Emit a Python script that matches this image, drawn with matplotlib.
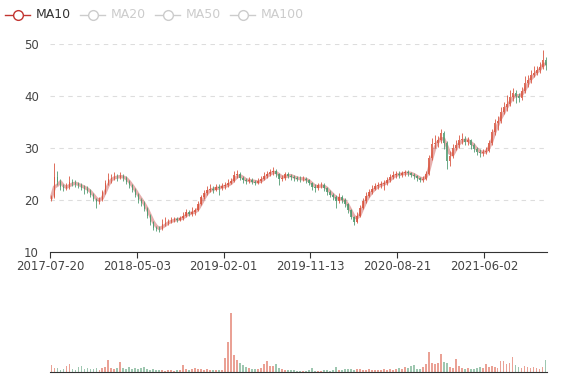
#!/usr/bin/python3
# coding: utf-8

import numpy as np
import pandas as pd
import matplotlib
matplotlib.use('Agg')
import matplotlib.pyplot as plt
from matplotlib.lines import Line2D

# one candle is roughly one trading week
tick_labels = ['2017-07-20', '2018-05-03', '2019-02-01', '2019-11-13', '2020-08-21', '2021-06-02']
tick_step = 29

first_open = 20.0
close = [20.5, 24.5, 23.5, 22.5, 22.3, 22.5, 23.5, 23.2, 23.0, 22.8,
         22.4, 22.2, 21.8, 21.0, 20.2, 19.6, 20.0, 21.5, 23.2, 24.0,
         24.3, 24.5, 24.4, 24.6, 24.3, 23.5, 22.8, 22.0, 21.0, 20.0,
         19.5, 18.3, 17.0, 15.8, 14.6, 14.5, 14.4, 15.4, 15.6, 15.8,
         16.2, 16.3, 16.2, 16.5, 17.0, 17.6, 17.4, 17.6, 18.0, 19.2,
         20.5, 21.3, 22.0, 22.2, 22.0, 22.5, 22.4, 22.6, 22.8, 23.2,
         23.6, 24.8, 25.0, 24.2, 23.8, 23.6, 23.9, 23.5, 23.3, 23.6,
         24.0, 24.6, 25.0, 25.3, 25.6, 25.0, 24.0, 24.3, 25.0, 24.7,
         24.4, 24.2, 24.1, 24.0, 24.1, 23.8, 23.2, 22.5, 22.4, 22.8,
         22.9, 22.3, 21.6, 21.0, 20.6, 19.8, 20.5, 20.0, 19.2, 18.0,
         16.8, 15.8, 17.0, 18.5, 19.8, 20.8, 21.5, 22.2, 22.6, 22.9,
         23.0, 23.2, 23.8, 24.4, 24.8, 25.0, 24.9, 25.1, 25.3, 25.2,
         24.9, 24.6, 24.2, 23.9, 24.0, 25.0, 28.0, 30.8, 31.0, 31.5,
         32.8, 31.0, 27.5, 28.5, 30.0, 30.6, 31.5, 31.8, 31.2, 31.5,
         30.5, 29.8, 29.3, 29.0, 29.2, 29.5, 31.0, 33.0, 34.8, 35.2,
         37.0, 37.8, 38.5, 39.8, 40.5, 40.0, 39.6, 41.0, 42.5, 43.0,
         44.0, 44.5, 45.0, 45.5, 47.0, 46.0]
high = [21.0, 27.2, 25.5, 24.0, 23.0, 23.2, 24.6, 24.0, 23.8, 23.4,
        23.2, 22.9, 22.6, 22.1, 21.3, 20.4, 20.5, 22.0, 23.8, 25.2,
        25.0, 25.3, 25.0, 25.4, 25.0, 24.6, 23.8, 23.0, 22.3, 21.3,
        20.4, 19.8, 18.6, 17.3, 16.0, 15.0, 15.0, 16.3, 16.8, 16.3,
        16.7, 16.8, 16.7, 16.9, 17.6, 18.2, 18.0, 18.6, 18.5, 19.8,
        21.0, 22.0, 22.6, 23.0, 22.7, 23.0, 23.0, 23.2, 23.5, 24.0,
        24.2, 25.5, 25.8, 25.3, 24.6, 24.2, 24.5, 24.2, 23.9, 24.2,
        24.6, 25.3, 25.6, 25.9, 26.4, 26.0, 25.2, 24.9, 25.4, 25.3,
        25.0, 24.8, 24.7, 24.6, 24.6, 24.4, 24.0, 23.4, 23.0, 23.3,
        23.4, 23.2, 22.5, 21.9, 21.3, 21.0, 21.4, 21.0, 20.3, 19.4,
        18.3, 17.0, 17.6, 19.0, 20.3, 21.5, 22.1, 22.8, 23.2, 23.5,
        23.6, 23.9, 24.4, 25.0, 25.5, 25.6, 25.5, 25.6, 25.8, 25.7,
        25.4, 25.1, 24.8, 24.5, 24.6, 25.6, 28.6, 32.0, 32.5, 32.4,
        33.7, 33.2, 31.3, 29.5, 30.8, 31.5, 32.5, 32.8, 32.3, 32.2,
        31.8, 30.9, 30.2, 29.8, 29.8, 30.2, 31.6, 33.7, 35.5, 36.2,
        37.8, 38.8, 40.2, 41.2, 41.5, 41.2, 40.6, 41.8, 43.8, 44.0,
        45.0, 45.8, 45.8, 46.5, 48.9, 47.5]
low = [19.8, 20.3, 22.8, 22.0, 21.8, 21.9, 22.2, 22.6, 22.5, 22.3,
       21.9, 21.2, 21.3, 20.5, 19.8, 18.5, 19.3, 19.8, 21.2, 22.8,
       23.2, 23.8, 23.6, 24.0, 23.7, 23.0, 22.3, 21.5, 20.5, 19.5,
       18.9, 17.8, 16.5, 15.2, 14.2, 14.0, 13.9, 14.2, 15.0, 15.1,
       15.5, 15.8, 15.7, 15.9, 16.2, 16.8, 16.9, 17.0, 17.2, 17.8,
       19.0, 20.2, 21.0, 21.6, 21.4, 21.7, 21.0, 22.0, 22.2, 22.5,
       23.0, 23.4, 24.3, 23.8, 23.3, 23.1, 23.2, 23.0, 22.8, 23.0,
       23.3, 23.8, 24.2, 24.6, 24.9, 24.5, 22.8, 23.6, 23.9, 24.2,
       23.9, 23.7, 23.6, 23.5, 23.6, 23.3, 22.8, 22.0, 21.5, 22.0,
       22.3, 21.8, 21.0, 20.5, 20.0, 18.5, 19.5, 19.4, 18.6, 17.5,
       16.3, 15.2, 15.5, 16.8, 18.2, 19.5, 20.5, 21.2, 21.9, 22.2,
       22.4, 22.0, 22.9, 23.5, 24.0, 24.3, 24.3, 24.5, 24.7, 24.7,
       24.4, 24.0, 23.7, 23.4, 23.4, 23.8, 24.8, 27.6, 30.0, 30.2,
       31.0, 29.8, 26.0, 26.5, 28.0, 29.6, 30.0, 30.8, 30.5, 30.6,
       29.8, 29.2, 28.6, 28.2, 28.5, 28.8, 29.2, 30.6, 32.5, 33.5,
       34.8, 36.5, 37.2, 38.0, 39.0, 38.6, 38.8, 39.2, 40.6, 41.8,
       42.5, 43.6, 44.0, 44.5, 45.2, 45.0]
volume = [7, 4, 4, 2, 3, 6, 8, 3, 2, 5,
          6, 3, 4, 3, 3, 4, 2, 4, 5, 12,
          4, 3, 4, 10, 4, 3, 5, 3, 4, 3,
          4, 5, 3, 2, 3, 2, 2, 2, 1, 2,
          2, 1, 2, 2, 7, 3, 2, 3, 4, 3,
          3, 2, 3, 2, 2, 2, 2, 2, 14, 30,
          59, 17, 12, 9, 7, 5, 4, 3, 3, 3,
          4, 8, 11, 6, 6, 8, 4, 3, 2, 2,
          2, 2, 1, 1, 1, 1, 2, 4, 1, 1,
          1, 2, 2, 1, 2, 5, 2, 2, 3, 3,
          3, 2, 3, 3, 2, 2, 3, 2, 2, 2,
          2, 3, 2, 3, 2, 3, 4, 3, 5, 4,
          6, 7, 3, 3, 5, 8, 20, 9, 8, 9,
          18, 10, 9, 5, 4, 13, 6, 4, 3, 4,
          3, 3, 4, 5, 4, 8, 5, 6, 5, 4,
          11, 11, 8, 9, 15, 7, 5, 4, 6, 5,
          4, 5, 4, 3, 5, 12]

legend_names = ['MA10', 'MA20', 'MA50', 'MA100']
legend_on = [True, False, False, False]

W, H = 577, 380
UP = '#d9553f'
DOWN = '#4f9a70'
MA_COLOR = '#c23531'


def main():
    n = len(close)
    x = np.arange(n)
    c = np.array(close)
    o = np.concatenate([[first_open], c[:-1]])
    up = c >= o
    colors = np.where(up, UP, DOWN)

    fig = plt.figure(figsize=(W / 100, H / 100), dpi=100)

    # price panel
    ax = fig.add_axes([50 / W, 1 - 252 / H, 497 / W, 208 / H])
    ma10 = pd.Series(c).rolling(3, min_periods=1).mean()
    ax.plot(x, ma10, color=MA_COLOR, lw=2.4, alpha=0.4, zorder=2)
    ax.vlines(x, low, high, colors=colors, lw=0.7, alpha=0.85, zorder=3)
    body = np.maximum(np.abs(c - o), 0.08)
    ax.bar(x, body, bottom=np.minimum(o, c), width=0.5, color=colors,
           alpha=0.85, lw=0, zorder=3)

    ax.set_xlim(-0.5, n - 0.5)
    ax.set_ylim(10, 50)
    ax.set_yticks([10, 20, 30, 40, 50])
    ax.grid(axis='y', color='#dddddd', ls=(0, (4, 4)), lw=0.8)
    ax.set_axisbelow(True)
    ticks = np.arange(len(tick_labels)) * tick_step - 0.5
    ax.set_xticks(ticks)
    ax.set_xticklabels(tick_labels)
    for s in ['top', 'right', 'left']:
        ax.spines[s].set_visible(False)
    ax.spines['bottom'].set_color('#333333')
    ax.spines['bottom'].set_zorder(5)
    ax.tick_params(axis='x', length=4, width=0.8, color='#333333',
                   labelsize=8.5, labelcolor='#444444', pad=2)
    ax.tick_params(axis='y', length=0, labelsize=8.5, labelcolor='#444444', pad=8)

    # volume panel
    axv = fig.add_axes([50 / W, 1 - 372 / H, 497 / W, 72 / H])
    axv.bar(x, volume, width=0.6, color=colors, alpha=0.55, lw=0)
    axv.set_xlim(-0.5, n - 0.5)
    axv.set_ylim(0, 72)
    axv.set_xticks([])
    axv.set_yticks([])
    for s in ['top', 'right', 'left']:
        axv.spines[s].set_visible(False)
    axv.spines['bottom'].set_color('#333333')

    # legend, echarts style
    for k, name in enumerate(legend_names):
        x0 = 5 + 75 * k
        yc = 1 - 15 / H
        col = MA_COLOR if legend_on[k] else '#cccccc'
        fig.add_artist(Line2D([x0 / W, (x0 + 25) / W], [yc, yc], color=col,
                              lw=1.0, transform=fig.transFigure))
        fig.add_artist(Line2D([(x0 + 13) / W], [yc], marker='o', ms=7,
                              mfc='white', mec=col, mew=1.0, transform=fig.transFigure))
        fig.text((x0 + 31) / W, yc, name, fontsize=9, va='center', ha='left',
                 color='#333333' if legend_on[k] else '#cccccc')

    fig.savefig('out.png', dpi=100)


if __name__ == '__main__':
    main()
